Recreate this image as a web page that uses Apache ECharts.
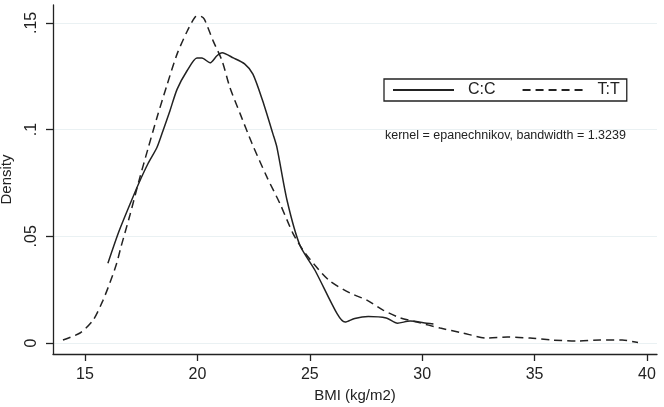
<!DOCTYPE html>
<html>
<head>
<meta charset="utf-8">
<script src="https://cdn.jsdelivr.net/npm/echarts@6/dist/echarts.min.js"></script>
<style>
html,body{margin:0;padding:0;background:#fff;}
#chart{width:664px;height:407px;}
</style>
</head>
<body>
<div id="chart"></div>
<script>
// C:C (solid) kernel density
const xCC = [16.02, 16.5, 17.0, 17.4, 17.8, 18.2, 18.47, 18.78, 19.1, 19.54, 19.98, 20.2, 20.56, 20.87, 21.1, 21.6, 22.1, 22.47, 22.9, 23.36, 23.54, 23.99, 24.56, 25.23, 26.2, 26.57, 27.0, 27.6, 28.4, 28.9, 29.46, 30.2, 30.5];
const yCC = [0.0374, 0.052, 0.065, 0.075, 0.084, 0.0916, 0.0995, 0.1089, 0.119, 0.1276, 0.1336, 0.1336, 0.1313, 0.1346, 0.136, 0.1336, 0.1308, 0.126, 0.1136, 0.098, 0.0916, 0.0668, 0.0458, 0.0341, 0.014, 0.0098, 0.0115, 0.0124, 0.0117, 0.0093, 0.0103, 0.0093, 0.0089];
// T:T (dashed) kernel density
const xTT = [14.02, 14.78, 15.36, 15.8, 16.1, 16.4, 16.6, 17.0, 17.4, 17.8, 18.2, 18.65, 19.1, 19.54, 19.9, 20.1, 20.3, 20.7, 21.1, 21.45, 21.9, 22.43, 23.1, 23.67, 24.25, 24.7, 25.23, 25.9, 26.8, 27.54, 28.26, 29.0, 29.77, 30.8, 31.8, 32.9, 33.8, 34.8, 35.8, 36.9, 37.9, 38.9, 39.6];
const yTT = [0.0014, 0.0047, 0.0107, 0.020, 0.028, 0.037, 0.045, 0.060, 0.076, 0.091, 0.1056, 0.121, 0.1355, 0.146, 0.1528, 0.1533, 0.1519, 0.1416, 0.1322, 0.1196, 0.1075, 0.0935, 0.0776, 0.0654, 0.0514, 0.0435, 0.0364, 0.0290, 0.0234, 0.0201, 0.0154, 0.0119, 0.0098, 0.0070, 0.0047, 0.0023, 0.0028, 0.0023, 0.0014, 0.0009, 0.0014, 0.0014, 0.0002];
const xTicks = [15, 20, 25, 30, 35, 40];
const yTicks = [0, 0.05, 0.1, 0.15];
const yTickLabels = ['0', '.05', '.1', '.15'];
const seriesNames = ['C:C', 'T:T'];
const noteText = 'kernel = epanechnikov, bandwidth = 1.3239';

const font = 'Liberation Sans, Arial, Helvetica, sans-serif';
const chart = echarts.init(document.getElementById('chart'), null, {renderer: 'canvas'});
const pairs = (xs, ys) => xs.map((x, i) => [x, ys[i]]);

chart.setOption({
  animation: false,
  backgroundColor: '#fff',
  grid: {left: 53, top: 5, width: 604, height: 349, containLabel: false, outerBoundsMode: 'none'},
  xAxis: {
    type: 'value', min: 13.577, max: 40.445,
    name: 'BMI (kg/m2)', nameLocation: 'middle', nameGap: 32,
    nameTextStyle: {fontFamily: font, fontSize: 15, color: '#222'},
    axisLine: {show: true, onZero: false, lineStyle: {color: '#222', width: 1.3}},
    axisTick: {show: true, customValues: xTicks, length: 7, lineStyle: {color: '#222', width: 1.3}},
    axisLabel: {customValues: xTicks, margin: 13, fontFamily: font, fontSize: 16, color: '#222'},
    splitLine: {show: false}
  },
  yAxis: {
    type: 'value', min: -0.00514, max: 0.1584,
    name: 'Density', nameLocation: 'middle', nameGap: 39,
    nameTextStyle: {fontFamily: font, fontSize: 15, color: '#222'},
    axisLine: {show: true, onZero: false, lineStyle: {color: '#222', width: 1.3}},
    axisTick: {show: true, customValues: yTicks, length: 7, lineStyle: {color: '#222', width: 1.3}},
    axisLabel: {customValues: yTicks, rotate: 90, margin: 13, fontFamily: font, fontSize: 16, color: '#222',
      formatter: v => { const i = yTicks.findIndex(t => Math.abs(t - v) < 1e-9); return i >= 0 ? yTickLabels[i] : ''; }},
    splitLine: {show: true, customValues: yTicks, lineStyle: {color: '#eaf1f3', width: 1}}
  },
  legend: {
    left: 384, top: 79,
    orient: 'horizontal',
    borderColor: '#222', borderWidth: 1.3, borderRadius: 0,
    padding: [3, 7, 3, 8],
    itemWidth: 61, itemHeight: 14, itemGap: 26,
    itemStyle: {color: 'transparent', borderWidth: 0, opacity: 0},
    textStyle: {fontFamily: font, fontSize: 16, color: '#222', padding: [0, 0, 0, 9]},
    data: seriesNames
  },
  graphic: [{
    type: 'text', left: 385, top: 129,
    style: {text: noteText, fontFamily: font, fontSize: 12.5, fill: '#222'}
  }],
  series: [
    {name: seriesNames[0], type: 'line', data: pairs(xCC, yCC), symbol: 'none', smooth: 0.25,
     lineStyle: {color: '#222', width: 1.5, type: 'solid'}, itemStyle: {color: '#222'}},
    {name: seriesNames[1], type: 'line', data: pairs(xTT, yTT), symbol: 'none', smooth: 0.25,
     lineStyle: {color: '#222', width: 1.5, type: [8, 5]}, itemStyle: {color: '#222'}}
  ]
});
</script>
</body>
</html>
